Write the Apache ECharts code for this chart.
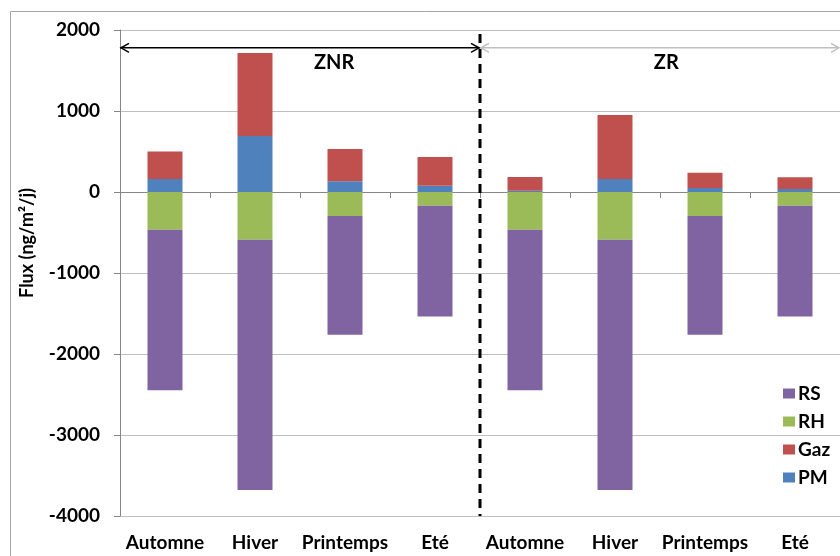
<!DOCTYPE html>
<html>
<head>
<meta charset="utf-8">
<script src="https://cdn.jsdelivr.net/npm/echarts@6/dist/echarts.min.js"></script>
<style>html,body{margin:0;padding:0;background:#fff}#c{width:840px;height:556px}</style>
</head>
<body>
<div id="c"></div>
<script>
const categories = ['Automne', 'Hiver', 'Printemps', 'Eté', 'Automne', 'Hiver', 'Printemps', 'Eté'];
const rsValues  = [-1984, -3090, -1466, -1367, -1984, -3090, -1466, -1367];
const rhValues  = [-465, -590, -296, -169, -465, -590, -296, -169];
const gazValues = [340, 1025, 400, 354, 170, 790, 190, 145];
const pmValues  = [160, 690, 132, 78, 15, 160, 48, 38];
const legendOrder = ['RS', 'RH', 'Gaz', 'PM'];
const zoneLabels = ['ZNR', 'ZR'];
const yTitle = 'Flux (ng/m²/j)';

const FONT = 'Lato';
const chart = echarts.init(document.getElementById('c'), null, {renderer: 'canvas'});

const labelStyle = {fontFamily: FONT, fontWeight: 'bold', fontSize: 19, color: '#000'};

function bar(name, data, color) {
  return {
    name, type: 'bar', stack: 'total', data, barWidth: 35,
    xAxisIndex: 0,
    itemStyle: {color},
    emphasis: {disabled: true}
  };
}

chart.setOption({
  animation: false,
  grid: {left: 120, right: 0, top: 30, bottom: 40, containLabel: false},
  legend: {
    data: legendOrder,
    orient: 'vertical',
    left: 778, top: 379,
    itemWidth: 12, itemHeight: 10, itemGap: 9,
    icon: 'rect',
    textStyle: Object.assign({}, labelStyle, {fontSize: 19, padding: [0, 0, 0, -2]})
  },
  xAxis: [
    {
      type: 'category', data: categories, position: 'bottom',
      axisLine: {show: false, onZero: false},
      axisTick: {show: false},
      axisLabel: Object.assign({}, labelStyle, {margin: 17, interval: 0}),
      splitLine: {show: false}
    },
    {
      type: 'category', data: categories, position: 'bottom',
      axisLine: {show: true, onZero: true, lineStyle: {color: '#868686', width: 1}},
      axisTick: {show: true, length: 6, lineStyle: {color: '#868686'}},
      axisLabel: {show: false},
      splitLine: {show: false}
    }
  ],
  yAxis: {
    type: 'value', min: -4000, max: 2000, interval: 1000,
    axisLine: {show: true, lineStyle: {color: '#868686'}},
    axisTick: {show: true, length: 6, lineStyle: {color: '#868686'}},
    axisLabel: Object.assign({}, labelStyle, {margin: 20, formatter: v => String(v)}),
    splitLine: {show: true, lineStyle: {color: '#bfbfbf', width: 1}}
  },
  series: [
    bar('PM', pmValues, '#4F81BD'),
    bar('Gaz', gazValues, '#C0504D'),
    bar('RH', rhValues, '#9BBB59'),
    bar('RS', rsValues, '#8064A2')
  ]
});

function px(i) { return chart.convertToPixel({xAxisIndex: 0}, i); }
function py(v) { return chart.convertToPixel({yAxisIndex: 0}, v); }

const cw = px(1) - px(0);
const xLeft = px(0) - cw / 2;
const xMid = px(3) + cw / 2;
const xRight = px(7) + cw / 2 - 1;
const yArrow = py(1780);
const yDashTop = py(1950);
const yDashBot = py(-4000);
const yText = py(1600);

function chevron(x, y, dir, color) {
  return {
    type: 'polyline',
    shape: {points: [[x + dir * 8, y - 4.5], [x, y], [x + dir * 8, y + 4.5]]},
    style: {stroke: color, lineWidth: 1.5, fill: null},
    z: 10
  };
}

chart.setOption({
  graphic: [
    {type: 'rect', shape: {x: 10.5, y: 11.5, width: 900, height: 700},
     style: {stroke: '#a6a6a6', fill: null, lineWidth: 1}, z: -10, silent: true},
    {type: 'text', x: 27, y: 243, rotation: Math.PI / 2,
     style: {text: yTitle, fontFamily: FONT, fontWeight: 'bold', fontSize: 18, fill: '#000',
             align: 'center', verticalAlign: 'middle'}},
    {type: 'line', shape: {x1: xMid, y1: yDashTop, x2: xMid, y2: yDashBot},
     style: {stroke: '#000', lineWidth: 3, lineDash: [9, 6]}, z: 10},
    {type: 'line', shape: {x1: xLeft, y1: yArrow, x2: xMid, y2: yArrow},
     style: {stroke: '#000', lineWidth: 1.5}, z: 10},
    chevron(xLeft + 1, yArrow, 1, '#000'),
    chevron(xMid - 1, yArrow, -1, '#000'),
    {type: 'line', shape: {x1: xMid, y1: yArrow, x2: xRight, y2: yArrow},
     style: {stroke: '#c0c0c0', lineWidth: 1.5}, z: 9},
    chevron(xMid + 1, yArrow, 1, '#c0c0c0'),
    chevron(xRight, yArrow, -1, '#c0c0c0'),
    {type: 'text', x: px(2) - 0.12 * cw, y: yText,
     style: {text: zoneLabels[0], fontFamily: FONT, fontWeight: 'bold', fontSize: 20, fill: '#000',
             align: 'center', verticalAlign: 'middle'}},
    {type: 'text', x: px(6) - 0.43 * cw, y: yText,
     style: {text: zoneLabels[1], fontFamily: FONT, fontWeight: 'bold', fontSize: 20, fill: '#000',
             align: 'center', verticalAlign: 'middle'}}
  ]
});
</script>
</body>
</html>
